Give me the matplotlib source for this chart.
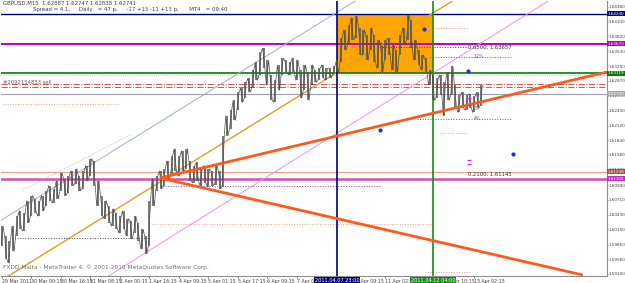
import numpy as np
import matplotlib
matplotlib.use("Agg")
import matplotlib.pyplot as plt
from matplotlib.patches import Rectangle
from matplotlib.transforms import blended_transform_factory

plt.rcParams["font.family"] = ["Liberation Sans Narrow", "DejaVu Sans"]

# GBPUSD M15, read off as 2-hour high/low bars
# x = trading hours since 29 Mar 2011 08:15
bar_hours = np.arange(0, 262, 2)
bar_high = [1.6021, 1.6002, 1.5993, 1.6021, 1.6040, 1.6050, 1.6046, 1.6069, 1.6079, 1.6073,
            1.6069, 1.6079, 1.6088, 1.6098, 1.6092, 1.6107, 1.6122, 1.6111, 1.6117, 1.6126,
            1.6130, 1.6117, 1.6126, 1.6136, 1.6149, 1.6145, 1.6107, 1.6079, 1.6069, 1.6059,
            1.6054, 1.6046, 1.6040, 1.6050, 1.6035, 1.6031, 1.6040, 1.6027, 1.6015, 1.6002,
            1.6069, 1.6111, 1.6117, 1.6126, 1.6130, 1.6145, 1.6155, 1.6168, 1.6155, 1.6164,
            1.6168, 1.6145, 1.6136, 1.6142, 1.6130, 1.6136, 1.6130, 1.6126, 1.6136, 1.6126,
            1.6193, 1.6231, 1.6241, 1.6260, 1.6275, 1.6283, 1.6294, 1.6302, 1.6317, 1.6332,
            1.6352, 1.6359, 1.6336, 1.6308, 1.6298, 1.6327, 1.6340, 1.6336, 1.6332, 1.6340,
            1.6336, 1.6317, 1.6327, 1.6313, 1.6327, 1.6317, 1.6321, 1.6327, 1.6321, 1.6321,
            1.6325, 1.6336, 1.6378, 1.6394, 1.6403, 1.6417, 1.6420, 1.6398, 1.6394, 1.6384,
            1.6398, 1.6384, 1.6375, 1.6365, 1.6375, 1.6378, 1.6365, 1.6355, 1.6384, 1.6398,
            1.6422, 1.6413, 1.6375, 1.6355, 1.6346, 1.6340, 1.6317, 1.6308, 1.6302, 1.6308,
            1.6294, 1.6313, 1.6325, 1.6289, 1.6270, 1.6275, 1.6270, 1.6272, 1.6268, 1.6275,
            1.6289]
bar_low = [1.5983, 1.5958, 1.5951, 1.5973, 1.6002, 1.6015, 1.6012, 1.6027, 1.6040, 1.6046,
           1.6040, 1.6050, 1.6059, 1.6069, 1.6065, 1.6073, 1.6088, 1.6079, 1.6084, 1.6098,
           1.6101, 1.6088, 1.6092, 1.6107, 1.6117, 1.6098, 1.6059, 1.6040, 1.6035, 1.6027,
           1.6021, 1.6015, 1.6008, 1.6015, 1.6002, 1.5996, 1.6008, 1.5993, 1.5977, 1.5968,
           1.5983, 1.6059, 1.6088, 1.6092, 1.6098, 1.6107, 1.6117, 1.6126, 1.6117, 1.6122,
           1.6130, 1.6107, 1.6103, 1.6107, 1.6098, 1.6103, 1.6096, 1.6098, 1.6100, 1.6092,
           1.6096, 1.6193, 1.6206, 1.6222, 1.6241, 1.6256, 1.6264, 1.6275, 1.6283, 1.6298,
           1.6308, 1.6321, 1.6289, 1.6260, 1.6256, 1.6279, 1.6308, 1.6313, 1.6308, 1.6313,
           1.6298, 1.6264, 1.6279, 1.6260, 1.6289, 1.6294, 1.6298, 1.6302, 1.6298, 1.6302,
           1.6310, 1.6313, 1.6332, 1.6355, 1.6365, 1.6375, 1.6378, 1.6346, 1.6346, 1.6336,
           1.6355, 1.6332, 1.6321, 1.6313, 1.6336, 1.6346, 1.6317, 1.6313, 1.6346, 1.6365,
           1.6375, 1.6359, 1.6336, 1.6327, 1.6317, 1.6313, 1.6289, 1.6260, 1.6264, 1.6270,
           1.6231, 1.6260, 1.6270, 1.6245, 1.6237, 1.6245, 1.6241, 1.6245, 1.6237, 1.6245,
           1.6250]

time_ticks = [0, 16, 32, 48, 64, 80, 96, 112, 128, 144, 160, 176, 192, 208, 224, 240, 256]
time_labels = ["29 Mar 2011", "30 Mar 00:15", "30 Mar 16:15", "31 Mar 08:15", "1 Apr 00:15",
               "1 Apr 16:15", "4 Apr 09:15", "5 Apr 01:15", "5 Apr 17:15", "6 Apr 09:15",
               "7 Apr 01:15", "7 Apr 17:15", "8 Apr 09:15", "11 Apr 02:15", "11 Apr 18:15",
               "12 Apr 10:15", "13 Apr 02:15"]
price_ticks = [1.59300, 1.59580, 1.59860, 1.60150, 1.60430, 1.60710, 1.60990, 1.61290,
               1.61580, 1.61840, 1.62120, 1.62400, 1.62690, 1.62970, 1.63250, 1.63530,
               1.63820, 1.64100, 1.64380]

# full-width horizontal levels
level_prices = [1.64240, 1.63670, 1.63119, 1.62720, 1.61238, 1.61105]
level_colors = ["#000080", "#c000c0", "#008000", "#a0a0b4", "#f0a080", "#d050b0"]
level_widths = [1.0, 1.4, 1.2, 0.8, 0.8, 1.8]
box_colors = ["#000080", "#b000b0", "#008000", "#a8a8a8", "#a0522d", "#c030c0"]
dashdot_prices = [1.62910, 1.62853]

# vertical time lines
vline_hours = [181.75, 233.75]
vline_colors = ["#000080", "#109010"]
vline_labels = ["2011.04.07 23:00", "2011.04.12 04:00"]

# trend lines (hour, price) anchors
channel_blue = [(26.0, 1.60896), (139.9, 1.63366)]
channel_gold = [(4.34, 1.59281), (233.8, 1.64259)]
channel_violet = [(58.6, 1.59281), (297.2, 1.64506)]
fan_origin = (85.7, 1.61124)
fan_up = (328.2, 1.63138)
fan_down = (315.1, 1.59281)

# short dotted levels: (start hour, end hour, price, colour)
short_levels = [(0.0, 64.0, 1.62530, "#f0a080"),
                (5.4, 80.3, 1.59984, "#505050"),
                (85.7, 205.0, 1.60972, "#6060a0"),
                (81.4, 233.2, 1.60250, "#f0a080"),
                (229.4, 253.8, 1.59338, "#f0a080"),
                (229.4, 252.8, 1.63974, "#f0a080"),
                (205.0, 252.2, 1.63613, "#404040"),
                (232.2, 276.6, 1.63423, "#4060e0"),
                (225.0, 276.6, 1.62245, "#4060e0"),
                (237.6, 252.8, 1.61979, "#f0a080")]

dot_hours = [228.9, 252.8, 277.2, 205.0]
dot_prices = [1.63955, 1.63157, 1.61580, 1.62036]
mark_hours = [253.3, 253.3, 253.3, 253.3]
mark_prices = [1.62644, 1.62511, 1.61466, 1.61390]

fig = plt.figure(figsize=(6.25, 2.83), dpi=100)
ax = fig.add_axes([1 / 625, 7 / 283, 606 / 625, 275 / 283])
ax.set_xlim(-0.54, 328.2)
ax.set_ylim(1.59262, 1.64487)

# box between the two vertical lines
ax.add_patch(Rectangle((vline_hours[0], level_prices[2]), vline_hours[1] - vline_hours[0],
                       level_prices[0] - level_prices[2], facecolor="#ffa500",
                       edgecolor="none", zorder=0))

for p, c, w in zip(level_prices, level_colors, level_widths):
    ax.axhline(p, color=c, lw=w, zorder=2)
ax.axhline(level_prices[2] - 0.0004, color="#90d090", lw=0.6, ls=":", zorder=2)
for p in dashdot_prices:
    ax.axhline(p, color="#e05050", lw=0.7, ls="-.", zorder=2)

for h, c in zip(vline_hours, vline_colors):
    ax.axvline(h, color=c, lw=1.2, zorder=3)

ax.axline(*channel_blue, color="#9ab0cc", lw=0.7, zorder=2)
ax.axline(*channel_gold, color="#e0a020", lw=1.0, zorder=2)
ax.axline(*channel_violet, color="#ee90ee", lw=0.7, zorder=2)
ax.plot([11.4, 69.4], [1.60896, 1.61941], color="#b0b0b0", lw=0.6, ls=":", zorder=2)

for end in (fan_up, fan_down):
    ax.plot([fan_origin[0], end[0]], [fan_origin[1], end[1]], color="#ff5a1e", lw=2.0,
            solid_capstyle="butt", zorder=4)

for x0, x1, p, c in short_levels:
    ax.plot([x0, x1], [p, p], color=c, lw=0.7, ls=":", zorder=2)

# price bars
ax.vlines(bar_hours, bar_low, bar_high, color="#555555", lw=1.1, zorder=3)
zx, zy = [], []
for i, h in enumerate(bar_hours):
    a, b = (bar_low[i], bar_high[i]) if i % 2 == 0 else (bar_high[i], bar_low[i])
    zx += [h - 0.6, h + 0.6]
    zy += [a, b]
ax.plot(zx, zy, color="#505050", lw=0.5, zorder=3)

ax.scatter(dot_hours, dot_prices, s=4, color="#2030d0", zorder=5)
ax.scatter(mark_hours, mark_prices, s=8, marker="_", color="#e020e0", lw=0.8, zorder=5)

ax.text(0.6, 1.62929, "#2092154853 sell", fontsize=3.8, color="#606060", va="center")
ax.text(252.6, 1.63613, "0.6500; 1.63657", fontsize=3.8, color="#303030", va="center")
ax.text(252.6, 1.61200, "0.2100; 1.61145", fontsize=3.8, color="#303030", va="center")
ax.text(256.0, 1.62440, "39", fontsize=3.4, color="#909090", va="center")
ax.text(256.0, 1.62245, "4%", fontsize=3.4, color="#4060e0", va="center")
ax.text(256.0, 1.63423, "12%", fontsize=3.4, color="#4060e0", va="center")

# axes styling like the terminal
for s in ["left", "top"]:
    ax.spines[s].set_visible(False)
ax.spines["right"].set_color("#909090")
ax.spines["bottom"].set_color("#909090")
ax.yaxis.tick_right()
ax.set_yticks(price_ticks)
ax.set_yticklabels([f"{v:.5f}" for v in price_ticks])
ax.set_xticks(time_ticks)
ax.set_xticklabels(time_labels)
for lab in ax.get_xticklabels():
    lab.set_horizontalalignment("left")
ax.tick_params(axis="x", labelsize=3.4, colors="#404040", length=1.5, width=0.5, pad=0.6)
ax.tick_params(axis="y", labelsize=3.0, colors="#404040", length=1.0, width=0.5, pad=0.4)

ytrans = blended_transform_factory(ax.transAxes, ax.transData)
for p, c in zip(level_prices, box_colors):
    ax.text(1.001, p, f"{p:.5f}", transform=ytrans, fontsize=3.0, color="white",
            va="center", ha="left", clip_on=False, zorder=10,
            bbox=dict(boxstyle="square,pad=0.12", fc=c, ec="none"))

xtrans = blended_transform_factory(ax.transData, ax.transAxes)
for h, c, t in zip(vline_hours, vline_colors, vline_labels):
    ax.text(h, -0.006, t, transform=xtrans, fontsize=3.6, color="white", va="top",
            ha="center", clip_on=False, zorder=10,
            bbox=dict(boxstyle="square,pad=0.15", fc=c, ec="none"))

fig.text(3 / 625, 1 - 1 / 283, "GBPUSD,M15  1.62887 1.62747 1.62838 1.62741",
         fontsize=3.9, color="#404040", va="top")
fig.text(33 / 625, 1 - 7 / 283,
         "Spread = 4.1,     Daily   = 47 p,     -17 +13 -11 +13 p,      MT4   = 09:40",
         fontsize=3.9, color="#404040", va="top")
ax.text(0.004, 0.02, "FXDD Malta - MetaTrader 4, \u00a9 2001-2010 MetaQuotes Software Corp.",
        transform=ax.transAxes, fontsize=4.2, color="#707070", va="bottom")

plt.savefig("out.png", dpi=100)
